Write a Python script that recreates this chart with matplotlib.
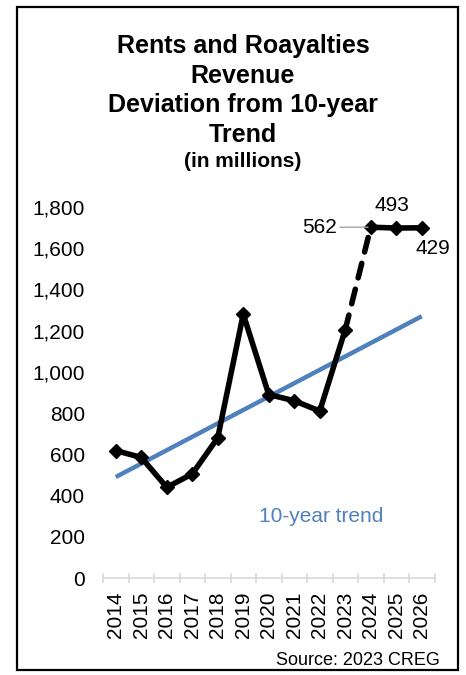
import matplotlib
matplotlib.use("Agg")
import matplotlib.pyplot as plt
from matplotlib.patches import Rectangle
from matplotlib.ticker import FixedLocator, FuncFormatter

plt.rcParams['font.family'] = ['Liberation Sans', 'DejaVu Sans']

years = [str(y) for y in range(2014, 2027)]
revenue = [618, 585, 440, 505, 680, 1280, 890, 860, 810, 1205, 1702, 1698, 1699]
trend_ends = [490, 1270]          # 10-year trend at 2014 and 2026
deviation_labels = ["562", "493", "429"]   # 2024-2026 above trend
yticks = [0, 200, 400, 600, 800, 1000, 1200, 1400, 1600, 1800]

BLACK = "#000000"
BLUE = "#4F81BD"
FS = 15
LW = 4.0

W, H = 466, 675
fig = plt.figure(figsize=(W / 100, H / 100), dpi=100)
ax = fig.add_axes([103 / W, (H - 578) / H, 331.5 / W, 371 / H])

x = list(range(len(years)))

# trend line
ax.plot([x[0], x[-1]], trend_ends, color=BLUE, lw=3.2, solid_capstyle='butt', zorder=2)

# actuals (solid), jump to forecast (dashed), forecast (solid)
ax.plot(x[:10], revenue[:10], color=BLACK, lw=LW, marker='D', ms=7.5, zorder=3)
ax.plot(x[9:11], revenue[9:11], color=BLACK, lw=LW, ls=(0, (2.7, 2.1)),
        dash_capstyle='round', zorder=3)
ax.plot(x[10:], revenue[10:], color=BLACK, lw=LW, marker='D', ms=7.5, zorder=3)

ax.set_xlim(-0.5, len(years) - 0.5)
ax.set_ylim(0, 1800)

# deviation labels
ax.annotate(deviation_labels[0], xy=(x[10], revenue[10]), xytext=(x[10] - 2.0, revenue[10]),
            fontsize=FS, ha='center', va='center',
            arrowprops=dict(arrowstyle='-', color='#A6A6A6', lw=1, shrinkA=28, shrinkB=2))
ax.text(x[11] - 0.15, revenue[11] + 107, deviation_labels[1], fontsize=FS, ha='center', va='center')
ax.text(x[12] + 0.45, revenue[12] - 102, deviation_labels[2], fontsize=FS, ha='center', va='center')

ax.text(8.05, 296, "10-year trend", color=BLUE, fontsize=FS, ha='center', va='center')

# axes styling
for s in ['top', 'right', 'left']:
    ax.spines[s].set_visible(False)
ax.spines['bottom'].set_color('#D9D9D9')
ax.spines['bottom'].set_linewidth(1.2)

ax.yaxis.set_major_locator(FixedLocator(yticks))
ax.yaxis.set_major_formatter(FuncFormatter(lambda v, p: f"{int(v):,}"))
ax.tick_params(axis='y', length=0, labelsize=FS, pad=13)

ax.set_xticks(x)
ax.set_xticklabels(years, rotation=90, fontsize=FS)
ax.tick_params(axis='x', which='major', length=0, pad=10)
ax.xaxis.set_minor_locator(FixedLocator([i - 0.5 for i in range(len(years) + 1)]))
ax.tick_params(axis='x', which='minor', direction='inout', length=7, width=1.2, color='#D9D9D9')

# title block
title_lines = ["Rents and Roayalties", "Revenue", "Deviation from 10-year", "Trend"]
for line, base in zip(title_lines, [53, 83, 112, 142]):
    fig.text(243 / W, (H - base) / H, line, fontsize=18, fontweight='bold',
             ha='center', va='baseline')
fig.text(243 / W, (H - 167) / H, "(in millions)", fontsize=15, fontweight='bold',
         ha='center', va='baseline')

fig.text(440 / W, (H - 665) / H, "Source: 2023 CREG", fontsize=13, ha='right', va='baseline')

# outer frame
fig.patches.append(Rectangle((17 / W, 5 / H), 441 / W, 663 / H, transform=fig.transFigure,
                             fill=False, edgecolor='black', lw=1.6))

fig.savefig("out.png", dpi=100)
